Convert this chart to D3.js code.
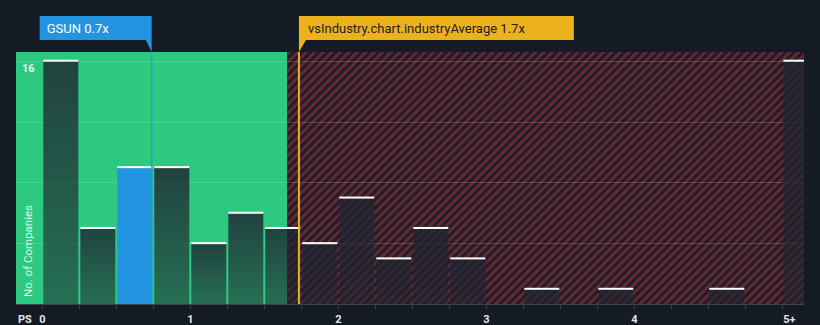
<!DOCTYPE html>
<html><head><meta charset="utf-8">
<script src="https://cdn.jsdelivr.net/npm/d3@7/dist/d3.min.js"></script>
<style>
html,body{margin:0;padding:0;background:#151b24;}
svg{display:block;font-family:Roboto,"Open Sans",sans-serif;}
</style></head>
<body>
<script>
// ---- data ----
const binStarts = [0,0.25,0.5,0.75,1,1.25,1.5,1.75,2,2.25,2.5,2.75,3,3.25,3.5,3.75,4,4.25,4.5,4.75,5];
const counts    = [16,5,9,9,4,6,5,4,7,3,5,3,0,1,0,1,0,0,1,0,16];
const xTickValues = [0,1,2,3,4,5];
const xTickLabels = ["0","1","2","3","4","5+"];
const yTickValues = [16];
const companyValue = 0.739;
const companyLabel = "GSUN 0.7x";
const industryValue = 1.734;
const industryLabel = "vsIndustry.chart.industryAverage 1.7x";
const fairBoundary = 1.655;
const highlightBin = 0.5;
const axisLabel = "PS";
const yAxisTitle = "No. of Companies";

(function(){
// ---- layout ----
const W = 820, H = 325;
const pL = 16, pR = 804, pT = 52, pB = 304;
const x = d3.scaleLinear().domain([0,5]).range([42.3, 782.3]);
const y = d3.scaleLinear().domain([0,16]).range([pB, 60.7]);

const svg = d3.select("body").append("svg").attr("width", W).attr("height", H);
const defs = svg.append("defs");

const pat = defs.append("pattern").attr("id","hatch").attr("patternUnits","userSpaceOnUse")
  .attr("width",6).attr("height",6).attr("patternTransform","rotate(45)");
pat.append("rect").attr("width",6).attr("height",6).attr("fill","#1b1f29");
pat.append("rect").attr("width",3).attr("height",6).attr("fill","#672630");

const grad = defs.append("linearGradient").attr("id","barGrad").attr("x1",0).attr("y1",0).attr("x2",0).attr("y2",1);
grad.append("stop").attr("offset","0%").attr("stop-color","#1e2530").attr("stop-opacity",0.82);
grad.append("stop").attr("offset","100%").attr("stop-color","#1e2530").attr("stop-opacity",0.55);

defs.append("clipPath").attr("id","plotClip").append("rect")
  .attr("x",pL).attr("y",pT).attr("width",pR-pL).attr("height",pB-pT);

const plot = svg.append("g").attr("clip-path","url(#plotClip)");

// zones
plot.append("rect").attr("x",pL).attr("y",pT).attr("width",x(fairBoundary)-pL).attr("height",pB-pT).attr("fill","#2ec980");
plot.append("rect").attr("x",x(fairBoundary)).attr("y",pT).attr("width",pR-x(fairBoundary)).attr("height",pB-pT).attr("fill","url(#hatch)");

// gridlines
[4,8,12,16].forEach(v=>{
  plot.append("line").attr("x1",pL).attr("x2",pR).attr("y1",Math.round(y(v))+0.5).attr("y2",Math.round(y(v))+0.5)
    .attr("stroke","rgba(255,255,255,0.16)").attr("stroke-width",1);
});

// bars
const data = binStarts.map((b,i)=>({b, c:counts[i]})).filter(d=>d.c>0);
const bars = plot.selectAll("g.bar").data(data).enter().append("g").attr("class","bar");
bars.append("rect")
  .attr("x", d=>x(d.b)+1)
  .attr("y", d=>y(d.c))
  .attr("width", d=>x(d.b+0.25)-x(d.b)-2)
  .attr("height", d=>pB-y(d.c))
  .attr("fill", d=> d.b===highlightBin ? "#2394df" : "url(#barGrad)");
bars.append("rect")
  .attr("x", d=>x(d.b)+1)
  .attr("y", d=>y(d.c)-1)
  .attr("width", d=>x(d.b+0.25)-x(d.b)-2)
  .attr("height", 2)
  .attr("fill", "#ffffff");

// company line
plot.append("line").attr("x1",x(companyValue)).attr("x2",x(companyValue)).attr("y1",pT).attr("y2",pB)
  .attr("stroke","#2394df").attr("stroke-opacity",0.75).attr("stroke-width",1.5);
// industry line
plot.append("line").attr("x1",x(industryValue)).attr("x2",x(industryValue)).attr("y1",pT).attr("y2",pB)
  .attr("stroke","#ecb21b").attr("stroke-width",2);

// axis
svg.append("line").attr("x1",pL).attr("x2",pR).attr("y1",pB+0.5).attr("y2",pB+0.5)
  .attr("stroke","#3a424e").attr("stroke-width",1);
const minorTicks = d3.range(0, 5.01, 0.25);
svg.selectAll("line.tick").data(minorTicks).enter().append("line").attr("class","tick")
  .attr("x1",d=>Math.round(x(d))+0.5).attr("x2",d=>Math.round(x(d))+0.5)
  .attr("y1",pB+1).attr("y2",pB+5).attr("stroke","#3a424e").attr("stroke-width",1);

svg.selectAll("text.xl").data(xTickValues).enter().append("text").attr("class","xl")
  .attr("x",d=>x(d)+ (d===5?1:0)).attr("y",323)
  .attr("text-anchor", d=> d===5 ? "start":"middle")
  .attr("fill","#e6e6e6").attr("font-size",11).attr("font-weight",700)
  .text((d,i)=>xTickLabels[i]);
svg.append("text").attr("x",18).attr("y",323).attr("fill","#e6e6e6").attr("font-size",11).attr("font-weight",700).text(axisLabel);

// y labels
yTickValues.forEach(v=>{
  svg.append("text").attr("x",22).attr("y",y(v)+11).attr("fill","#f0f0f0").attr("font-size",11).attr("font-weight",700).text(v);
});
svg.append("text").attr("transform",`translate(32,251) rotate(-90)`).attr("text-anchor","middle")
  .attr("fill","rgba(255,255,255,0.85)").attr("font-size",11.5).text(yAxisTitle);

// callouts
function callout(xv, label, fill, textColor, side){
  const px = x(xv);
  const g = svg.append("g");
  const p = g.append("path").attr("fill",fill);
  const t = g.append("text").attr("y",33).attr("font-size",13).attr("fill",textColor).text(label);
  const tw = t.node().getComputedTextLength();
  if (side === "left") {
    const x0 = px - (tw + 50);
    p.attr("d", `M${x0},16 H${px} V52 L${px-6},40 H${x0} Z`);
    t.attr("x", x0 + 7);
  } else {
    const x1 = px + tw + 58;
    p.attr("d", `M${px},16 H${x1} V40 H${px+7} L${px},52 Z`);
    t.attr("x", px + 9);
  }
}
callout(companyValue, companyLabel, "#2394df", "#ffffff", "left");
callout(industryValue, industryLabel, "#ecb21b", "#1c2129", "right");
})();
</script>
</body></html>
